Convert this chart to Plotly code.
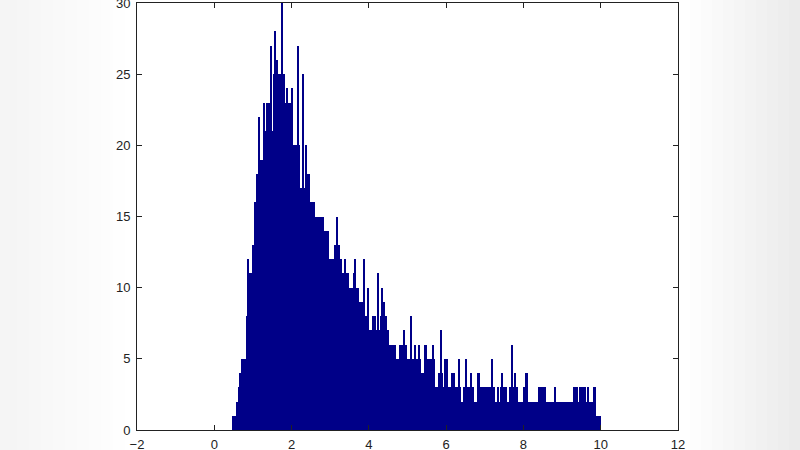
import plotly.graph_objects as go

# Histogram data (one bin per ~pixel column)
BIN_START = 0.46      # left edge of first bin
BIN_WIDTH = 0.0259    # bin width in data units
counts = [
    1, 0, 1, 1, 2, 2, 3, 4, 4, 5,
    5, 5, 5, 4, 8, 12, 11, 11, 11, 11,
    13, 10, 16, 16, 18, 16, 22, 19, 18, 19,
    19, 23, 18, 21, 23, 22, 23, 23, 27, 21,
    21, 25, 28, 25, 26, 25, 25, 25, 25, 30,
    25, 25, 23, 20, 24, 23, 22, 23, 16, 24,
    20, 20, 20, 20, 20, 27, 20, 17, 15, 17,
    25, 16, 17, 20, 18, 14, 18, 16, 16, 15,
    16, 16, 15, 15, 15, 15, 13, 15, 15, 15,
    15, 14, 14, 14, 14, 14, 12, 11, 12, 12,
    12, 12, 13, 13, 15, 13, 13, 12, 12, 10,
    11, 10, 12, 9, 11, 11, 10, 8, 10, 10,
    10, 11, 12, 10, 10, 10, 9, 7, 9, 9,
    8, 12, 8, 8, 7, 10, 7, 6, 7, 7,
    8, 8, 8, 7, 7, 11, 7, 7, 8, 10,
    5, 9, 8, 8, 7, 7, 6, 6, 6, 6,
    6, 5, 6, 5, 5, 5, 5, 6, 6, 5,
    6, 7, 6, 6, 4, 5, 5, 5, 8, 3,
    5, 5, 6, 5, 5, 5, 6, 5, 4, 4,
    4, 4, 6, 6, 5, 5, 5, 5, 5, 5,
    6, 5, 3, 3, 3, 3, 4, 4, 7, 4,
    3, 3, 5, 5, 5, 3, 3, 3, 3, 4,
    4, 4, 3, 3, 3, 3, 5, 3, 2, 2,
    2, 3, 3, 5, 1, 3, 3, 3, 4, 3,
    3, 1, 2, 2, 2, 4, 4, 3, 3, 3,
    3, 2, 3, 3, 2, 3, 3, 3, 3, 5,
    3, 3, 2, 2, 2, 3, 2, 2, 3, 4,
    3, 1, 3, 3, 2, 2, 2, 3, 3, 6,
    3, 3, 4, 3, 3, 2, 2, 1, 2, 2,
    2, 3, 3, 4, 4, 2, 2, 1, 2, 2,
    1, 2, 2, 2, 2, 1, 3, 2, 3, 3,
    2, 3, 3, 2, 2, 2, 2, 2, 2, 1,
    2, 2, 3, 2, 2, 2, 2, 1, 2, 2,
    1, 2, 2, 2, 1, 2, 2, 2, 2, 2,
    1, 3, 3, 3, 3, 2, 2, 3, 2, 3,
    3, 3, 3, 2, 2, 3, 2, 2, 2, 2,
    2, 3, 3, 1, 1, 0, 1, 1, 0,
]
x_ticks = [-2, 0, 2, 4, 6, 8, 10, 12]
y_ticks = [0, 5, 10, 15, 20, 25, 30]

centers = [BIN_START + (i + 0.5) * BIN_WIDTH for i in range(len(counts))]

fig = go.Figure(go.Bar(
    x=centers, y=counts, width=BIN_WIDTH,
    marker=dict(color="#000088", line=dict(width=0)),
))

# faint grey haze at the picture edges (soft gradient from thin layers)
L, W = 137, 541
shapes = []
for k in range(10):
    x1 = 125 - k * 12
    shapes.append(dict(type="rect", xref="paper", yref="paper",
                       x0=-L / W, x1=(x1 - L) / W, y0=-0.1, y1=1.02,
                       fillcolor="black", opacity=0.005, line=dict(width=0), layer="below"))
for k in range(10):
    x0 = 690 + k * 11
    shapes.append(dict(type="rect", xref="paper", yref="paper",
                       x0=(x0 - L) / W, x1=(800 - L) / W, y0=-0.1, y1=1.02,
                       fillcolor="black", opacity=0.006, line=dict(width=0), layer="below"))

axis_common = dict(
    showline=True, linecolor="#222", linewidth=1, mirror="ticks",
    ticks="inside", ticklen=5, tickcolor="#222", showgrid=False, zeroline=False,
    automargin=False, ticklabeloverflow="allow",
    tickfont=dict(family="Liberation Sans, Arial, sans-serif", size=13, color="#222"),
)

fig.update_layout(
    width=800, height=450,
    margin=dict(l=137, r=122, t=3, b=20),
    paper_bgcolor="white", plot_bgcolor="white",
    bargap=0, showlegend=False,
    shapes=shapes,
    xaxis=dict(range=[-2, 12], tickvals=x_ticks, ticklabelstandoff=2, **axis_common),
    yaxis=dict(range=[0, 30], tickvals=y_ticks, ticklabelstandoff=3, **axis_common),
)

fig.write_html("out.html", config={"displayModeBar": False},
               post_script="document.body.style.margin='0';")
